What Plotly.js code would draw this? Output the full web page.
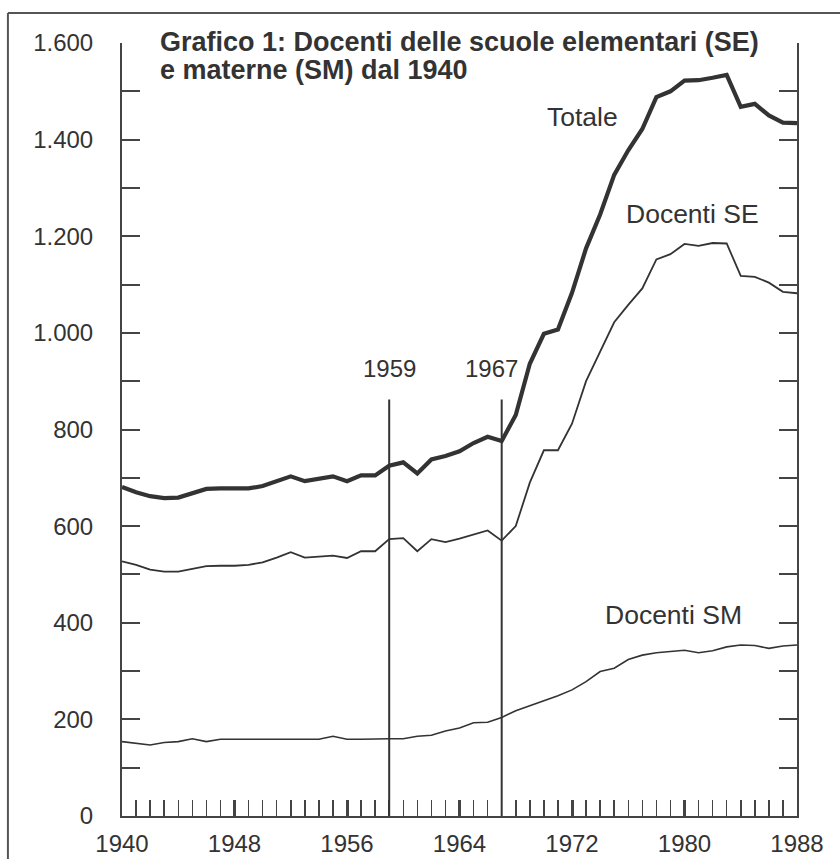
<!DOCTYPE html>
<html>
<head>
<meta charset="utf-8">
<script src="https://cdn.plot.ly/plotly-3.0.1.min.js"></script>
<style>html,body{margin:0;padding:0;background:#fff;}#chart{width:840px;height:859px;}</style>
</head>
<body>
<div id="chart"></div>
<script>
const years = [1940,1941,1942,1943,1944,1945,1946,1947,1948,1949,1950,1951,1952,1953,1954,1955,1956,1957,1958,1959,1960,1961,1962,1963,1964,1965,1966,1967,1968,1969,1970,1971,1972,1973,1974,1975,1976,1977,1978,1979,1980,1981,1982,1983,1984,1985,1986,1987,1988];
const totale = [681,670,662,658,659,668,677,678,678,678,683,693,703,693,698,703,693,705,705,725,732,709,738,745,755,772,785,776,830,936,998,1007,1083,1175,1245,1327,1378,1422,1488,1500,1522,1523,1528,1534,1468,1474,1450,1435,1434];
const docentiSE = [527,520,510,506,506,511,517,518,518,520,525,535,546,535,537,539,534,548,548,573,575,548,573,567,574,582,591,570,600,690,757,757,812,900,962,1022,1058,1092,1152,1163,1184,1180,1186,1185,1118,1116,1104,1085,1082];
const docentiSM = [154,150,147,152,154,160,154,159,159,159,159,159,159,159,159,165,159,159,160,160,160,165,167,176,182,193,194,204,218,228,238,249,261,278,299,306,324,333,338,340,343,338,342,350,354,353,347,352,354];
const markerYears = [1959, 1967];
const seriesLabels = ["Totale", "Docenti SE", "Docenti SM"];
const titleLines = ["Grafico 1: Docenti delle scuole elementari (SE)", "e materne (SM) dal 1940"];

const ink = "#333333";
const fontFam = "Liberation Sans, Arial, Helvetica, sans-serif";

const traces = [
  {x: years, y: totale, type: "scatter", mode: "lines", line: {color: ink, width: 4.2}, hoverinfo: "skip"},
  {x: years, y: docentiSE, type: "scatter", mode: "lines", line: {color: ink, width: 1.8}, hoverinfo: "skip"},
  {x: years, y: docentiSM, type: "scatter", mode: "lines", line: {color: ink, width: 1.6}, hoverinfo: "skip"}
];

const shapes = markerYears.map(yr => ({
  type: "line", xref: "x", yref: "y", x0: yr, x1: yr, y0: 0, y1: 862,
  line: {color: ink, width: 2}
}));
// outer frame of the figure
shapes.push({type: "line", xref: "paper", yref: "paper", x0: -0.169, x1: 1.1, y0: 1.0388, y1: 1.0388, line: {color: "#555", width: 2}});
shapes.push({type: "line", xref: "paper", yref: "paper", x0: -0.169, x1: -0.169, y0: 1.0388, y1: -0.1, line: {color: "#555", width: 2}});

const annotations = [
  {xref: "paper", yref: "paper", x: 0.0533, y: 1.0013, text: "<b>" + titleLines[0] + "</b>", showarrow: false, xanchor: "left", yanchor: "middle", font: {size: 27, color: ink, family: fontFam}},
  {xref: "paper", yref: "paper", x: 0.0533, y: 0.965, text: "<b>" + titleLines[1] + "</b>", showarrow: false, xanchor: "left", yanchor: "middle", font: {size: 27, color: ink, family: fontFam}},
  {x: markerYears[0], y: 926, text: String(markerYears[0]), showarrow: false, xanchor: "center", yanchor: "middle", font: {size: 24, color: ink, family: fontFam}},
  {x: markerYears[1], y: 926, xshift: -10, text: String(markerYears[1]), showarrow: false, xanchor: "center", yanchor: "middle", font: {size: 24, color: ink, family: fontFam}},
  {x: 1972.77, y: 1447, text: seriesLabels[0], showarrow: false, xanchor: "center", yanchor: "middle", font: {size: 26.5, color: ink, family: fontFam}},
  {x: 1980.6, y: 1246, text: seriesLabels[1], showarrow: false, xanchor: "center", yanchor: "middle", font: {size: 26.5, color: ink, family: fontFam}},
  {x: 1979.2, y: 417, text: seriesLabels[2], showarrow: false, xanchor: "center", yanchor: "middle", font: {size: 26.5, color: ink, family: fontFam}}
];

const layout = {
  width: 840, height: 859,
  margin: {l: 122, r: 43, t: 43, b: 43},
  paper_bgcolor: "#ffffff", plot_bgcolor: "#ffffff",
  showlegend: false,
  separators: ",.",
  font: {family: fontFam, color: ink},
  xaxis: {
    range: [1940, 1988], showgrid: false, zeroline: false,
    showline: true, linecolor: "#444", linewidth: 2, mirror: false,
    ticks: "inside", tick0: 1940, dtick: 8, ticklen: 16, tickwidth: 3, tickcolor: "#444",
    minor: {ticks: "inside", dtick: 1, ticklen: 16, tickwidth: 1.5, tickcolor: "#444", showgrid: false},
    tickfont: {size: 24, color: ink, family: fontFam},
    ticklabelstandoff: 5,
    fixedrange: true
  },
  yaxis: {
    range: [0, 1600], showgrid: false, zeroline: false,
    showline: true, linecolor: "#444", linewidth: 2, mirror: "ticks",
    ticks: "inside", tick0: 0, dtick: 200, ticklen: 18, tickwidth: 2, tickcolor: "#444",
    minor: {ticks: "inside", dtick: 100, ticklen: 18, tickwidth: 2, tickcolor: "#444", showgrid: false},
    tickformat: ",d", separatethousands: true,
    tickfont: {size: 24, color: ink, family: fontFam},
    ticklabelstandoff: 22,
    fixedrange: true
  },
  shapes: shapes,
  annotations: annotations
};

Plotly.newPlot("chart", traces, layout, {displayModeBar: false, staticPlot: true});
</script>
</body>
</html>
